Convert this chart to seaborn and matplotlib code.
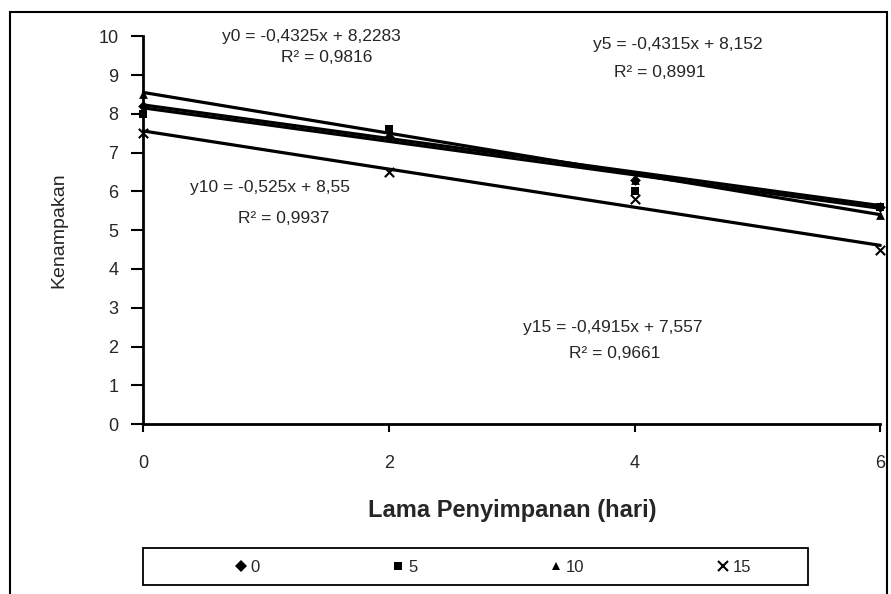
import numpy as np
import pandas as pd
import matplotlib.pyplot as plt
import seaborn as sns
from matplotlib.lines import Line2D
from matplotlib.patches import Rectangle

sns.set_theme(style='white')
plt.rcParams['font.family'] = ['Liberation Sans', 'DejaVu Sans']

# data
days = [0, 2, 4, 6]
series_names = ['0', '5', '10', '15']
y_0 = [8.2, 7.4, 6.3, 5.6]
y_5 = [8.0, 7.6, 6.0, 5.6]
y_10 = [8.5, 7.6, 6.3, 5.4]
y_15 = [7.5, 6.5, 5.8, 4.5]

# trendline coefficients as printed on the chart
slopes = [-0.4325, -0.4315, -0.525, -0.4915]
intercepts = [8.2283, 8.152, 8.55, 7.557]
eq_labels = ['y0 = -0,4325x + 8,2283', 'y5 = -0,4315x + 8,152',
             'y10 = -0,525x + 8,55', 'y15 = -0,4915x + 7,557']
r2_labels = ['R² = 0,9816', 'R² = 0,8991', 'R² = 0,9937', 'R² = 0,9661']
eq_pos = [(1.37, 10.0), (4.35, 9.79), (1.03, 6.11), (3.82, 2.5)]
r2_pos = [(1.49, 9.46), (4.2, 9.07), (1.14, 5.31), (3.84, 1.83)]

markers = {'0': 'D', '5': 's', '10': '^', '15': 'x'}
msizes = {'0': 30, '5': 36, '10': 40, '15': 45}

df = pd.DataFrame({
    'hari': days * 4,
    'nilai': y_0 + y_5 + y_10 + y_15,
    'seri': [s for s in series_names for _ in days],
})

fig = plt.figure(figsize=(8.91, 5.94), dpi=100)
ax = fig.add_axes([0.161, 0.286, 0.827, 0.653])

# trendlines
xs = np.array(days, dtype=float)
for m, b in zip(slopes, intercepts):
    ax.plot(xs, m * xs + b, color='black', lw=2.3, zorder=2, clip_on=False)

for s in series_names:
    sub = df[df['seri'] == s]
    sns.scatterplot(data=sub, x='hari', y='nilai', marker=markers[s], s=msizes[s],
                    color='black', edgecolor='black', linewidth=1.5 if s == '15' else 0,
                    ax=ax, legend=False, zorder=3, clip_on=False)

for txt, (x, y) in zip(eq_labels, eq_pos):
    ax.text(x, y, txt, ha='center', va='center', fontsize=12.5, clip_on=False)
for txt, (x, y) in zip(r2_labels, r2_pos):
    ax.text(x, y, txt, ha='center', va='center', fontsize=12.5, clip_on=False)

ax.set_xlim(0, 6)
ax.set_ylim(0, 10)
ax.set_xticks([0, 2, 4, 6])
ax.set_yticks(range(0, 11))
ax.tick_params(axis='both', direction='out', width=1.5, color='black',
               labelsize=13, bottom=True, left=True)
ax.tick_params(axis='x', length=6, pad=16)
ax.tick_params(axis='y', length=9, pad=9)
for side in ['top', 'right']:
    ax.spines[side].set_visible(False)
for side in ['left', 'bottom']:
    ax.spines[side].set_linewidth(2)
    ax.spines[side].set_color('black')
ax.set_xlabel('Lama Penyimpanan (hari)', fontsize=17, fontweight='bold', labelpad=20)
ax.set_ylabel('Kenampakan', fontsize=14, labelpad=22)

# legend box like the Excel chart
fig.patches.append(Rectangle((143 / 891, 1 - 585 / 594), 665 / 891, 37 / 594,
                             transform=fig.transFigure, fill=False,
                             edgecolor='black', lw=1.3))
handles = [Line2D([], [], ls='none', marker=markers[s], color='black',
                  markersize=6 if s != '15' else 7, markeredgewidth=1.5 if s == '15' else 0)
           for s in series_names]
fig.legend(handles, series_names, loc='center',
           bbox_to_anchor=(0.552, 1 - 567 / 594), ncol=4, frameon=False,
           fontsize=12, handletextpad=0.1, columnspacing=7.8, handlelength=1)

# outer chart border
fig.patches.append(Rectangle((0.011, -0.01), 0.984, 0.99, transform=fig.transFigure,
                             fill=False, edgecolor='black', lw=1.5))

fig.savefig('out.png', dpi=100)
